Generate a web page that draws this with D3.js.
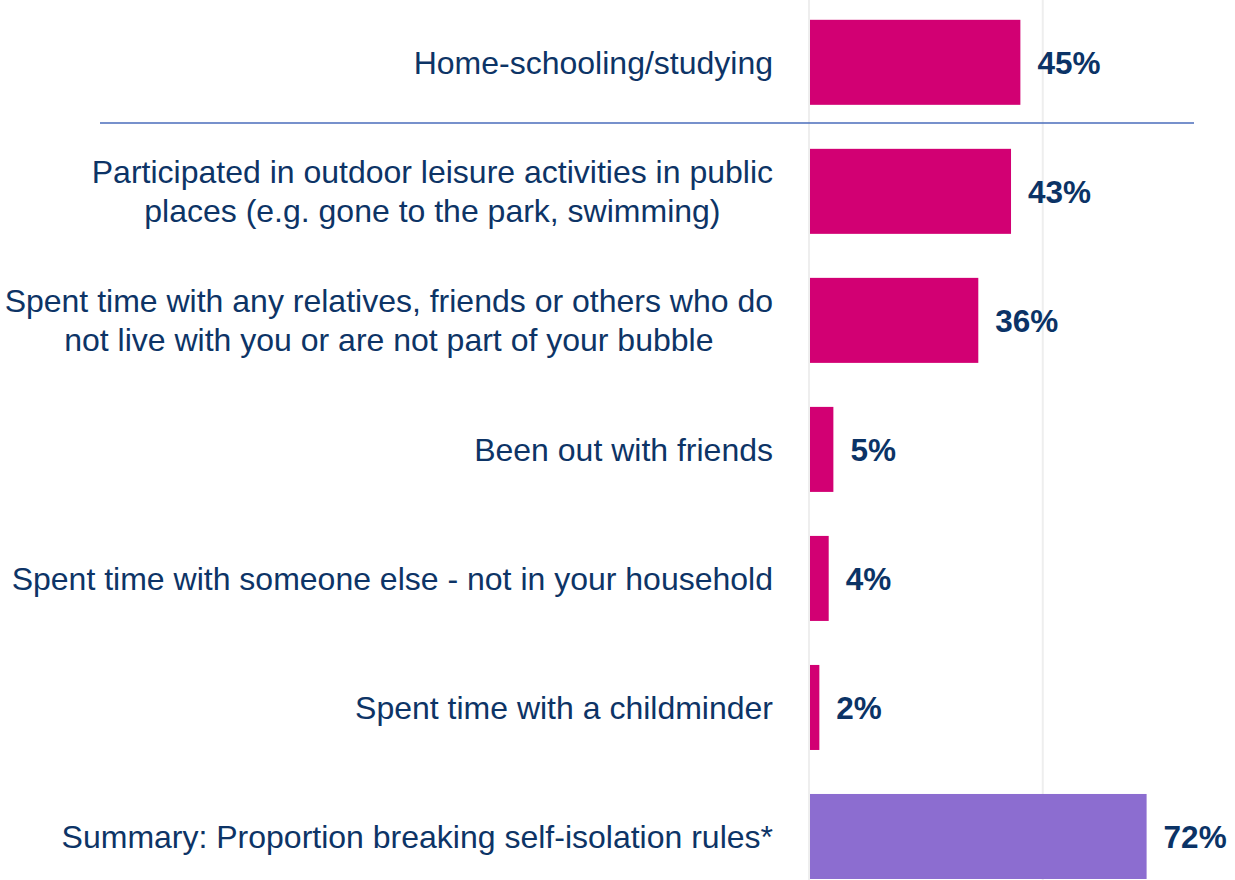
<!DOCTYPE html>
<html>
<head>
<meta charset="utf-8">
<script src="https://cdn.jsdelivr.net/npm/d3@7"></script>
<style>
  body { margin: 0; background: #fff; }
  svg { display: block; font-family: "Liberation Sans", Arial, sans-serif; }
</style>
</head>
<body>
<div id="vis"></div>
<script>
// chart data
const categories = [
    ["Home-schooling/studying"],
    ["Participated in outdoor leisure activities in public", "places (e.g. gone to the park, swimming)"],
    ["Spent time with any relatives, friends or others who do", "not live with you or are not part of your bubble"],
    ["Been out with friends"],
    ["Spent time with someone else - not in your household"],
    ["Spent time with a childminder"],
    ["Summary: Proportion breaking self-isolation rules*"]
];
const values = [45, 43, 36, 5, 4, 2, 72];
const isSummary = [false, false, false, false, false, false, true];
const gridTicks = [0, 50];

const width = 1235;
const height = 880;

const svg = d3.select("#vis").append("svg")
    .attr("width", width)
    .attr("height", height);

const x = d3.scaleLinear()
    .domain([0, 100])
    .range([810, 810 + 467.5]);

// 129px per row, 85px bars
const y = d3.scaleBand()
    .domain(d3.range(categories.length))
    .range([-2.2, 901])
    .paddingInner(44 / 129)
    .paddingOuter(22 / 129);

// light grid lines
svg.append("g")
    .selectAll("line")
    .data(gridTicks)
    .join("line")
    .attr("x1", d => x(d) - 1)
    .attr("x2", d => x(d) - 1)
    .attr("y1", 0)
    .attr("y2", height)
    .attr("stroke", "#eeeeee")
    .attr("stroke-width", 2);

// bars
svg.append("g")
    .selectAll("rect")
    .data(values)
    .join("rect")
    .attr("x", x(0))
    .attr("y", (d, i) => y(i))
    .attr("width", d => x(d) - x(0))
    .attr("height", y.bandwidth())
    .attr("fill", (d, i) => isSummary[i] ? "#8c6dd0" : "#d20073");

// separator under first row
svg.append("line")
    .attr("x1", 100)
    .attr("x2", 1194)
    .attr("y1", 123)
    .attr("y2", 123)
    .attr("stroke", "#4a6dbb")
    .attr("stroke-width", 1.5);

// value labels
svg.append("g")
    .selectAll("text")
    .data(values)
    .join("text")
    .attr("x", d => x(d) + 17)
    .attr("y", (d, i) => y(i) + y.bandwidth() / 2)
    .attr("dy", "0.36em")
    .attr("fill", "#0b3366")
    .attr("font-size", "31.5px")
    .attr("font-weight", "bold")
    .text(d => d + "%");

// category labels (multi-line ones centred on their longest line)
const labelRight = 773;
const lineH = 39;
const labels = svg.append("g")
    .selectAll("text")
    .data(categories)
    .join("text")
    .attr("fill", "#0d3466")
    .attr("font-size", "32px");

labels.each(function(lines, i) {
    const t = d3.select(this);
    const cy = y(i) + y.bandwidth() / 2;
    const y0 = cy - (lines.length - 1) * lineH / 2;
    lines.forEach((line, j) => {
        t.append("tspan")
            .attr("y", y0 + j * lineH)
            .attr("dy", "0.36em")
            .text(line);
    });
    if (lines.length === 1) {
        t.attr("text-anchor", "end");
        t.selectAll("tspan").attr("x", labelRight);
    } else {
        const maxW = d3.max(t.selectAll("tspan").nodes(), n => n.getComputedTextLength());
        t.attr("text-anchor", "middle");
        t.selectAll("tspan").attr("x", labelRight - maxW / 2);
    }
});
</script>
</body>
</html>
